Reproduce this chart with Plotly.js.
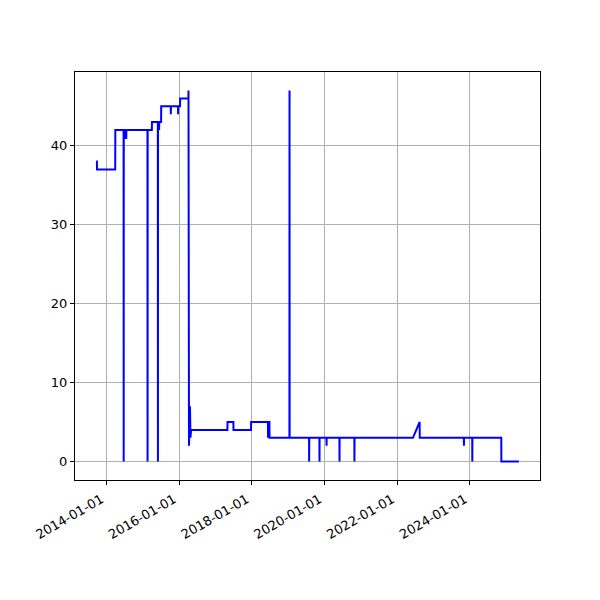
<!DOCTYPE html>
<html><head><meta charset="utf-8">
<script src="https://cdn.plot.ly/plotly-3.0.1.min.js"></script>
<style>html,body{margin:0;padding:0;background:#fff}</style>
</head><body>
<div id="chart" style="width:600px;height:600px"></div>
<script>
const dates = [
"2013-09-20","2013-09-28","2013-09-29",
"2014-03-31","2014-04-01",
"2014-06-23","2014-06-24","2014-06-25",
"2014-07-05","2014-07-06","2014-07-20","2014-07-21",
"2015-02-18","2015-02-19","2015-02-20",
"2015-04-03","2015-04-04",
"2015-06-02","2015-06-03","2015-06-04","2015-06-14","2015-06-15","2015-06-16",
"2015-07-05","2015-07-06",
"2015-10-10","2015-10-11","2015-10-12",
"2015-12-22","2015-12-23","2015-12-24",
"2016-01-11","2016-01-12",
"2016-04-04","2016-04-05","2016-04-10","2016-04-20","2016-04-25","2016-05-01",
"2017-05-01","2017-05-02","2017-06-30","2017-07-01",
"2017-12-24","2017-12-25",
"2018-06-12","2018-06-13","2018-06-14","2018-06-27","2018-06-28",
"2019-01-14","2019-01-15","2019-01-16",
"2019-07-30","2019-07-31","2019-08-01",
"2019-11-11","2019-11-12","2019-11-13",
"2020-01-21","2020-01-22","2020-01-23",
"2020-05-30","2020-05-31","2020-06-01",
"2020-10-27","2020-10-28","2020-10-29",
"2022-06-08","2022-08-14","2022-08-15",
"2023-11-01","2023-11-02","2023-11-03",
"2024-01-24","2024-01-25","2024-01-26",
"2024-11-11","2024-11-12",
"2025-05-07"
];
const values = [
38,38,37,
37,42,
42,0,42,
42,41,41,42,
42,0,42,
42,43,
43,0,43,43,42,43,
43,45,
45,44,45,
45,44,45,
45,46,
46,47,2,7,3,4,
4,5,5,4,
4,5,
5,3,5,5,3,
3,47,3,
3,0,3,
3,0,3,
3,2,3,
3,0,3,
3,0,3,
3,5,3,
3,2,3,
3,0,3,
3,0,
0
];
const tickDates = ["2014-01-01","2016-01-01","2018-01-01","2020-01-01","2022-01-01","2024-01-01"];
const yTicks = [0,10,20,30,40];

const font = {family:"DejaVu Sans, sans-serif", size:13, color:"#000"};
Plotly.newPlot("chart", [{
  x: dates, y: values, type: "scatter", mode: "lines",
  line: {color: "#0000ff", width: 2}
}], {
  width: 600, height: 600,
  margin: {l: 75, r: 60, t: 72, b: 120},
  paper_bgcolor: "#fff", plot_bgcolor: "#fff",
  showlegend: false,
  font: font,
  xaxis: {
    type: "date", range: ["2013-02-20","2025-12-05"],
    tickvals: tickDates, ticktext: tickDates, tickangle: -30,
    ticks: "outside", ticklen: 4, tickcolor: "#000",
    ticklabelshift: -5, ticklabelstandoff: 2,
    showgrid: true, gridcolor: "#b0b0b0", gridwidth: 1,
    showline: true, linecolor: "#000", linewidth: 1, mirror: true,
    zeroline: false, tickfont: font
  },
  yaxis: {
    range: [-2.35, 49.35], tickvals: yTicks,
    ticks: "outside", ticklen: 4, tickcolor: "#000",
    showgrid: true, gridcolor: "#b0b0b0", gridwidth: 1,
    showline: true, linecolor: "#000", linewidth: 1, mirror: true,
    zeroline: false, tickfont: font
  }
}, {staticPlot: true});
</script>
</body></html>
